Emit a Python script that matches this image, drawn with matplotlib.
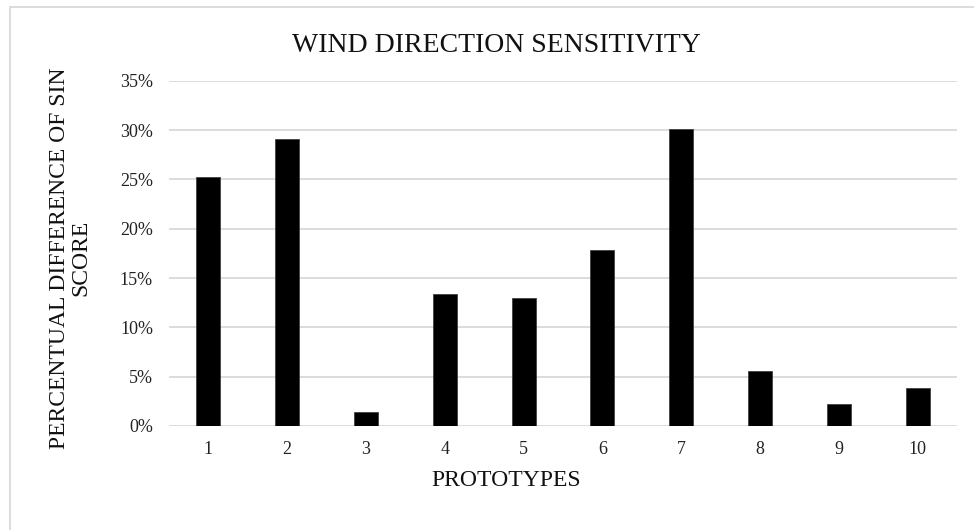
import matplotlib
matplotlib.use("Agg")
import matplotlib.pyplot as plt
from matplotlib.patches import Rectangle
from matplotlib.ticker import PercentFormatter, MultipleLocator

prototypes = ['1', '2', '3', '4', '5', '6', '7', '8', '9', '10']
pct_diff = [25.2, 29.1, 1.4, 13.4, 13.0, 17.8, 30.1, 5.6, 2.2, 3.9]

plt.rcParams['font.family'] = ['Liberation Serif', 'DejaVu Serif']

fig = plt.figure(figsize=(9.74, 5.30), dpi=100)
ax = fig.add_axes([169 / 974, 1 - 426 / 530, 788 / 974, (426 - 80.7) / 530])

ax.bar(range(len(prototypes)), pct_diff, width=0.305, color='black',
       edgecolor='#404040', linewidth=0.6, zorder=3)

ax.set_xlim(-0.5, len(prototypes) - 0.5)
ax.set_ylim(0, 35)
ax.yaxis.set_major_locator(MultipleLocator(5))
ax.yaxis.set_major_formatter(PercentFormatter(100, decimals=0))
ax.set_xticks(range(len(prototypes)))
ax.set_xticklabels(prototypes)
ax.grid(axis='y', color='#d9d9d9', linewidth=1.3, zorder=0)
ax.set_axisbelow(True)
for s in ax.spines.values():
    s.set_visible(False)
ax.tick_params(axis='both', length=0, labelsize=13, colors='#222222')
ax.tick_params(axis='y', pad=11.5)
ax.tick_params(axis='x', pad=11)

fig.text(0.5 * (293 + 700) / 974, 1 - 45.5 / 530, 'WIND DIRECTION SENSITIVITY',
         ha='center', va='center', fontsize=20, color='#111111')
fig.text(70 / 974, 1 - 258 / 530, 'PERCENTUAL DIFFERENCE OF SIN\nSCORE',
         ha='center', va='center', rotation=90, fontsize=17, linespacing=1.05,
         color='#111111')
fig.text(506 / 974, 1 - 480 / 530, 'PROTOTYPES', ha='center', va='center',
         fontsize=17, color='#111111')

# light frame around the chart area
fig.add_artist(Rectangle((9.5 / 974, -0.1), 1.2, 1.1 - 7.5 / 530,
                         transform=fig.transFigure, fill=False,
                         edgecolor='#d9d9d9', linewidth=1.3))

fig.savefig('out.png', dpi=100)
